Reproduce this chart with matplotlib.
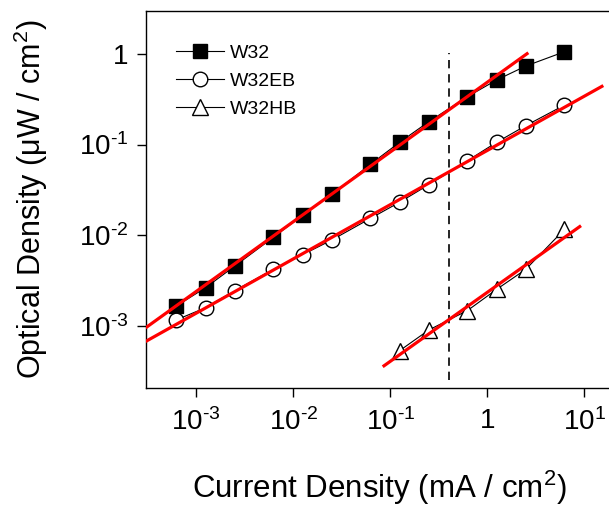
import numpy as np
import matplotlib
matplotlib.use('Agg')
import matplotlib.pyplot as plt
from matplotlib.ticker import FixedLocator, FuncFormatter, NullLocator
from matplotlib import font_manager

names = {f.name for f in font_manager.fontManager.ttflist}
FONT = 'Liberation Sans Narrow' if 'Liberation Sans Narrow' in names else 'Liberation Sans'
plt.rcParams['font.family'] = [FONT, 'DejaVu Sans']
plt.rcParams['mathtext.fontset'] = 'custom'
plt.rcParams['mathtext.rm'] = FONT
plt.rcParams['mathtext.it'] = FONT
plt.rcParams['mathtext.bf'] = FONT
plt.rcParams['mathtext.default'] = 'regular'

# ---- data ----
current = [6.25e-4, 1.25e-3, 2.5e-3, 6.25e-3, 1.25e-2, 2.5e-2, 6.25e-2,
           0.125, 0.25, 0.625, 1.25, 2.5, 6.25]
w32 = [1.65e-3, 2.63e-3, 4.56e-3, 9.47e-3, 1.66e-2, 2.82e-2, 6.06e-2,
       0.106, 0.179, 0.338, 0.517, 0.737, 1.06]
w32eb = [1.16e-3, 1.58e-3, 2.44e-3, 4.20e-3, 6.08e-3, 8.84e-3, 1.53e-2,
         2.31e-2, 3.61e-2, 6.64e-2, 0.106, 0.162, 0.273]
current_hb = [0.125, 0.25, 0.625, 1.25, 2.5, 6.25]
w32hb = [5.30e-4, 8.97e-4, 1.47e-3, 2.52e-3, 4.20e-3, 1.16e-2]

# power-law fits: slope, log10 of value at 1 mA/cm2, x-range
fit_slope = [0.770, 0.599, 0.762]
fit_logint = [-0.312, -1.065, -2.632]
fit_xmin = [3.0e-4, 3.0e-4, 0.0836]
fit_xmax = [2.65, 15.7, 9.25]

threshold_x = 0.4
threshold_y = [2.5e-4, 1.03]

xticks = [1e-3, 1e-2, 1e-1, 1, 10]
yticks = [1e-3, 1e-2, 1e-1, 1]

W, H = 609, 508
fig = plt.figure(figsize=(W / 100, H / 100), dpi=100)
left, right, top, bottom = 145.5, 613.5, 11, 388
ax = fig.add_axes([left / W, 1 - bottom / H, (right - left) / W, (bottom - top) / H])
ax.set_xscale('log')
ax.set_yscale('log')
ax.set_xlim(3.0e-4, 20)
ax.set_ylim(2.05e-4, 2.985)

ax.plot(current, w32, '-', color='black', lw=0.8, marker='s', ms=9.5,
        mfc='black', mec='black', label='W32', zorder=3)
ax.plot(current, w32eb, '-', color='black', lw=0.8, marker='o', ms=10.5,
        mfc='white', mec='black', mew=1.0, label='W32EB', zorder=3)
ax.plot(current_hb, w32hb, '-', color='black', lw=0.8, marker='^', ms=11,
        mfc='white', mec='black', mew=1.0, label='W32HB', zorder=3)

for s, b, x0, x1 in zip(fit_slope, fit_logint, fit_xmin, fit_xmax):
    xx = np.logspace(np.log10(x0), np.log10(x1), 50)
    ax.plot(xx, 10 ** (b + s * np.log10(xx)), '-', color='#ff0000', lw=2.3,
            zorder=4, solid_capstyle='butt')

ax.plot([threshold_x, threshold_x], threshold_y, color='black', lw=1.2,
        dashes=(5, 3.5), zorder=2)

def fmt(v, pos):
    e = int(round(np.log10(v)))
    return '1' if e == 0 else r'$10^{\text{%d}}$' % e

ax.xaxis.set_major_locator(FixedLocator(xticks))
ax.yaxis.set_major_locator(FixedLocator(yticks))
ax.xaxis.set_minor_locator(NullLocator())
ax.yaxis.set_minor_locator(NullLocator())
ax.xaxis.set_major_formatter(FuncFormatter(fmt))
ax.yaxis.set_major_formatter(FuncFormatter(fmt))
ax.tick_params(axis='both', which='major', direction='out', length=6.5,
               width=1.0, labelsize=20, top=False, right=False)
ax.tick_params(axis='x', pad=8)
ax.tick_params(axis='y', pad=6)
for sp in ax.spines.values():
    sp.set_linewidth(1.0)

leg = ax.legend(loc='upper left', bbox_to_anchor=(175.7 / W, 1 - 44 / H),
                bbox_transform=fig.transFigure, frameon=False, fontsize=14,
                handlelength=2.5, handletextpad=0.3, labelspacing=0.55,
                borderpad=0, borderaxespad=0)

fig.text(379.5 / W, 1 - 498 / H, 'Current Density (mA / cm$^2$)',
         ha='center', va='baseline', fontsize=22.5)
fig.text(31 / W, 1 - 199.5 / H, 'Optical Density (\u03bcW / cm$^2$)',
         ha='center', va='center', rotation=90, fontsize=22)

fig.savefig('out.png', dpi=100)
